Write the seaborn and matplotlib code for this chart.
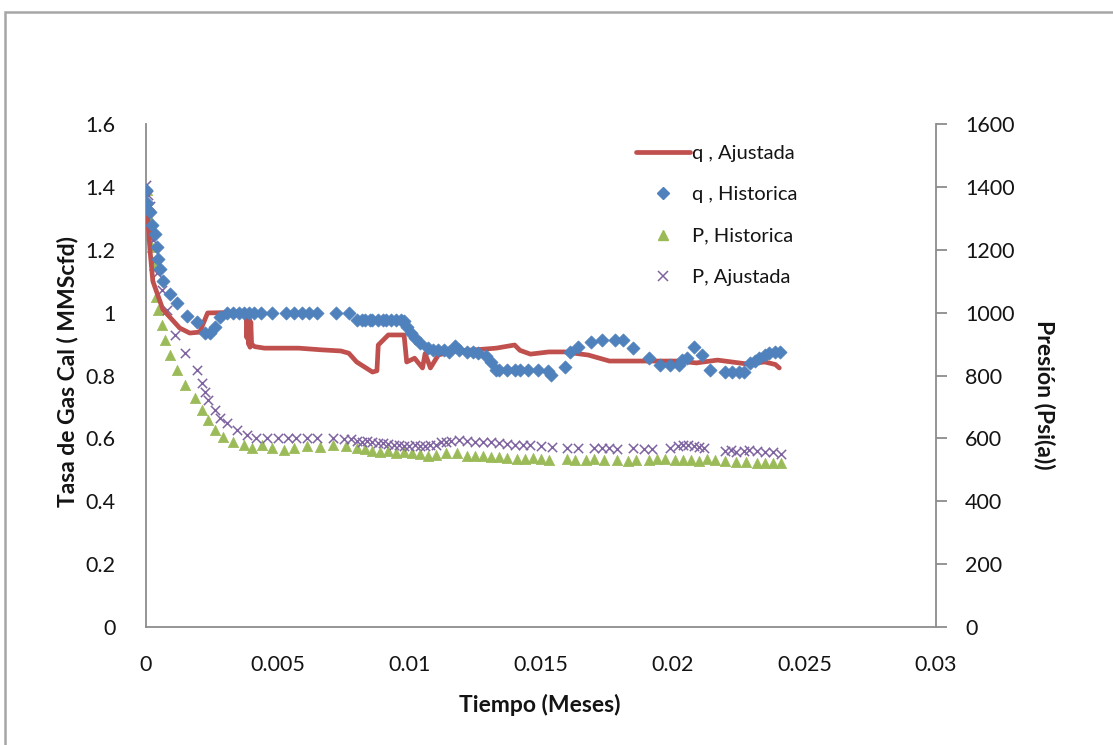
import numpy as np
import pandas as pd
import seaborn as sns
import matplotlib
matplotlib.use("Agg")
import matplotlib.pyplot as plt
from matplotlib.lines import Line2D
from matplotlib.patches import Rectangle

# ---- data -------------------------------------------------------------
# q , Ajustada (MMScfd) - fitted gas rate
q_fit_t = [0.0, 0.00004, 0.00015, 0.00026, 0.00064, 0.00128, 0.00166, 0.00204,
           0.00234, 0.00300, 0.00380, 0.00383, 0.00386, 0.00389, 0.00392, 0.00395,
           0.00398, 0.00401, 0.00412, 0.00450, 0.00580, 0.00660, 0.00740, 0.00770,
           0.00800, 0.00830, 0.00860, 0.00877, 0.00882, 0.00920, 0.00980, 0.00990,
           0.01020, 0.01050, 0.01060, 0.01080, 0.01110, 0.01160, 0.01240, 0.01330,
           0.01400, 0.01420, 0.01460, 0.01530, 0.01590, 0.01680, 0.01760, 0.01970,
           0.02020, 0.02090, 0.02170, 0.02280, 0.02350, 0.02390, 0.02405]
q_fit = [1.35, 1.33, 1.20, 1.10, 1.01, 0.951, 0.935, 0.938,
         0.999, 1.0, 1.0, 0.92, 0.99, 0.90, 0.98, 0.89,
         0.97, 0.90, 0.892, 0.887, 0.887, 0.882, 0.878, 0.871,
         0.843, 0.827, 0.811, 0.815, 0.897, 0.929, 0.929, 0.843,
         0.855, 0.824, 0.870, 0.824, 0.865, 0.877, 0.881, 0.887,
         0.897, 0.880, 0.868, 0.875, 0.875, 0.865, 0.846, 0.846,
         0.846, 0.840, 0.849, 0.837, 0.843, 0.835, 0.824]

# q , Historica (MMScfd) - measured gas rate
q_hist_t = [0.0, 0.00004, 0.00015, 0.00023, 0.00034, 0.00042, 0.00045, 0.00053,
            0.00064, 0.00091, 0.00117, 0.00155, 0.00193, 0.00223, 0.00242, 0.00261,
            0.00280, 0.00306, 0.00329, 0.00355, 0.00374, 0.00393, 0.00412, 0.00438,
            0.00480, 0.00533, 0.00563, 0.00593, 0.00620, 0.00650, 0.00722, 0.00771,
            0.00800, 0.00820, 0.00830, 0.00850, 0.00860, 0.00880, 0.00900, 0.00910,
            0.00930, 0.00950, 0.00970, 0.00980, 0.00990, 0.01005, 0.01020, 0.01040,
            0.01070, 0.01090, 0.01110, 0.01130, 0.01150, 0.01175, 0.01190, 0.01220,
            0.01240, 0.01260, 0.01290, 0.01310, 0.01330, 0.01340, 0.01370, 0.01400,
            0.01420, 0.01450, 0.01490, 0.01526, 0.01538, 0.01590, 0.01610, 0.01640,
            0.01690, 0.01730, 0.01780, 0.01810, 0.01850, 0.01910, 0.01950, 0.01990,
            0.02025, 0.02036, 0.02055, 0.02082, 0.02112, 0.02142, 0.02199, 0.02225,
            0.02252, 0.02271, 0.02293, 0.02312, 0.02327, 0.02350, 0.02365, 0.02388,
            0.02407]
q_hist = [1.39, 1.35, 1.32, 1.28, 1.25, 1.21, 1.17, 1.14,
          1.10, 1.06, 1.03, 0.99, 0.97, 0.935, 0.935, 0.955,
          0.985, 1.0, 1.0, 1.0, 1.0, 1.0, 1.0, 1.0,
          1.0, 1.0, 1.0, 1.0, 1.0, 1.0, 0.999, 0.999,
          0.978, 0.976, 0.976, 0.976, 0.976, 0.976, 0.976, 0.976,
          0.976, 0.976, 0.976, 0.972, 0.955, 0.935, 0.920, 0.903,
          0.887, 0.881, 0.880, 0.880, 0.875, 0.893, 0.880, 0.875,
          0.875, 0.872, 0.862, 0.843, 0.817, 0.817, 0.817, 0.817,
          0.817, 0.817, 0.817, 0.815, 0.801, 0.827, 0.875, 0.891,
          0.907, 0.913, 0.913, 0.913, 0.887, 0.856, 0.833, 0.833,
          0.833, 0.849, 0.855, 0.891, 0.865, 0.817, 0.811, 0.811,
          0.811, 0.811, 0.840, 0.845, 0.856, 0.865, 0.871, 0.875,
          0.875]

# P, Historica (psi(a)) - measured pressure
p_hist_t = [0.00004, 0.00008, 0.00015, 0.00023, 0.00030, 0.00038, 0.00045, 0.00060,
            0.00072, 0.00091, 0.00117, 0.00147, 0.00185, 0.00212, 0.00234, 0.00261,
            0.00291, 0.00329, 0.00374, 0.00404, 0.00442, 0.00480, 0.00525, 0.00563,
            0.00610, 0.00660, 0.00710, 0.00760, 0.00800, 0.00830, 0.00860, 0.00890,
            0.00920, 0.00950, 0.00980, 0.01010, 0.01040, 0.01070, 0.01100, 0.01140,
            0.01180, 0.01220, 0.01250, 0.01280, 0.01310, 0.01340, 0.01370, 0.01410,
            0.01440, 0.01470, 0.01500, 0.01530, 0.01600, 0.01630, 0.01670, 0.01700,
            0.01740, 0.01790, 0.01830, 0.01860, 0.01910, 0.01940, 0.01970, 0.02010,
            0.02040, 0.02070, 0.02100, 0.02130, 0.02160, 0.02200, 0.02240, 0.02280,
            0.02320, 0.02350, 0.02380, 0.02410]
p_hist = [1390, 1310, 1247, 1209, 1150, 1050, 1008, 961,
          913, 865, 817, 770, 728, 690, 658, 627,
          604, 589, 579, 569, 579, 570, 563, 570,
          575, 572, 580, 575, 570, 565, 560, 558,
          560, 555, 556, 553, 550, 545, 548, 555,
          552, 545, 545, 543, 540, 542, 538, 535,
          535, 538, 533, 532, 535, 530, 530, 533,
          530, 532, 528, 532, 530, 533, 535, 530,
          532, 530, 528, 535, 530, 527, 525, 524,
          523, 522, 522, 521]

# P, Ajustada (psi(a)) - fitted pressure
p_fit_t = [0.0, 0.00008, 0.00015, 0.00023, 0.00026, 0.00034, 0.00042, 0.00060,
           0.00079, 0.00110, 0.00147, 0.00193, 0.00212, 0.00223, 0.00234, 0.00261,
           0.00280, 0.00306, 0.00344, 0.00382, 0.00419, 0.00460, 0.00500, 0.00540,
           0.00570, 0.00610, 0.00650, 0.00710, 0.00750, 0.00780, 0.00800, 0.00820,
           0.00840, 0.00860, 0.00880, 0.00900, 0.00920, 0.00940, 0.00960, 0.00980,
           0.01000, 0.01020, 0.01040, 0.01060, 0.01080, 0.01100, 0.01120, 0.01140,
           0.01160, 0.01190, 0.01220, 0.01250, 0.01280, 0.01310, 0.01340, 0.01370,
           0.01400, 0.01430, 0.01460, 0.01500, 0.01540, 0.01600, 0.01640, 0.01700,
           0.01730, 0.01760, 0.01790, 0.01850, 0.01890, 0.01920, 0.01990, 0.02020,
           0.02040, 0.02060, 0.02080, 0.02100, 0.02120, 0.02200, 0.02220, 0.02240,
           0.02270, 0.02290, 0.02320, 0.02350, 0.02380, 0.02410]
p_fit = [1405, 1374, 1340, 1263, 1231, 1167, 1126, 1072,
         1008, 929, 871, 817, 776, 748, 722, 690,
         665, 649, 627, 611, 601, 600, 600, 600,
         600, 600, 602, 600, 598, 598, 592, 590,
         592, 588, 585, 585, 582, 580, 578, 575,
         575, 578, 575, 575, 578, 580, 588, 590,
         592, 595, 592, 590, 588, 588, 585, 582,
         580, 578, 580, 575, 572, 568, 570, 568,
         570, 568, 566, 568, 565, 565, 570, 575,
         578, 580, 575, 572, 570, 560, 562, 558,
         560, 562, 560, 558, 556, 550]

x_ticks = [0, 0.005, 0.01, 0.015, 0.02, 0.025, 0.03]
x_tick_labels = ["0", "0.005", "0.01", "0.015", "0.02", "0.025", "0.03"]
q_ticks = [0, 0.2, 0.4, 0.6, 0.8, 1.0, 1.2, 1.4, 1.6]
q_tick_labels = ["0", "0.2", "0.4", "0.6", "0.8", "1", "1.2", "1.4", "1.6"]
p_ticks = [0, 200, 400, 600, 800, 1000, 1200, 1400, 1600]
p_tick_labels = ["0", "200", "400", "600", "800", "1000", "1200", "1400", "1600"]

# ---- style ------------------------------------------------------------
sns.set_theme(style="white")
plt.rcParams["font.family"] = ["Lato", "DejaVu Sans"]

RED = "#C0504D"
BLUE = "#4F81BD"
GREEN = "#9BBB59"
PURPLE = "#8064A2"
GREY = "#8C8C8C"
TXT = "#141414"

fig = plt.figure(figsize=(11.13, 7.45), dpi=100)
fig.patch.set_facecolor("white")
# chart-area frame (only its top and left edges fall inside the canvas)
fig.patches.append(Rectangle((5 / 1113, -0.2), 1.2, 1.2 - 12 / 745,
                             transform=fig.transFigure, fill=False,
                             edgecolor="#A6A6A6", linewidth=1.8, zorder=0))

ax = fig.add_axes([146 / 1113, 1 - 627 / 745, (936 - 146) / 1113, (627 - 124) / 745])
ax2 = ax.twinx()

df_qf = pd.DataFrame({"t": q_fit_t, "q": q_fit})
df_qh = pd.DataFrame({"t": q_hist_t, "q": q_hist})
df_ph = pd.DataFrame({"t": p_hist_t, "p": p_hist})
df_pf = pd.DataFrame({"t": p_fit_t, "p": p_fit})

# pressure series on the secondary axis (drawn underneath)
sns.scatterplot(data=df_ph, x="t", y="p", ax=ax2, marker="^", s=55,
                color=GREEN, edgecolor=GREEN, linewidth=0.5, zorder=2)
sns.scatterplot(data=df_pf, x="t", y="p", ax=ax2, marker="x", s=45,
                color=PURPLE, linewidth=1.1, zorder=3)
# rate series on the primary axis
sns.lineplot(data=df_qf, x="t", y="q", ax=ax, color=RED, linewidth=3.4,
             estimator=None, sort=False, zorder=4)
sns.scatterplot(data=df_qh, x="t", y="q", ax=ax, marker="D", s=45,
                color=BLUE, edgecolor=BLUE, linewidth=0.5, zorder=5)

# primary axis (rate) above the secondary one
ax.set_zorder(ax2.get_zorder() + 1)
ax.patch.set_visible(False)

ax.set_xlim(0, 0.03)
ax.set_ylim(0, 1.6)
ax2.set_ylim(0, 1600)

ax.set_xticks(x_ticks, x_tick_labels)
ax.set_yticks(q_ticks, q_tick_labels)
ax2.set_yticks(p_ticks, p_tick_labels)

for s in ["top", "right"]:
    ax.spines[s].set_visible(False)
for s in ["top", "left", "bottom"]:
    ax2.spines[s].set_visible(False)
for s in ["left", "bottom"]:
    ax.spines[s].set_color(GREY)
    ax.spines[s].set_linewidth(1.3)
ax2.spines["right"].set_color(GREY)
ax2.spines["right"].set_linewidth(1.3)

TICK_FS = 15.5
ax.tick_params(axis="x", length=0, pad=20, labelsize=TICK_FS, labelcolor=TXT)
ax.tick_params(axis="y", length=0, pad=22, labelsize=TICK_FS, labelcolor=TXT)
ax2.tick_params(axis="y", direction="out", length=8, width=1.3, color=GREY,
                pad=13, labelsize=TICK_FS, labelcolor=TXT)

LAB_FS = 16.5
ax.set_xlabel("Tiempo (Meses)", fontsize=LAB_FS, fontweight="bold", color=TXT)
ax.xaxis.set_label_coords(0.499, -0.133)
ax.set_ylabel("Tasa de Gas Cal ( MMScfd)", fontsize=LAB_FS, fontweight="bold", color=TXT)
ax.yaxis.set_label_coords(-0.086, 0.507)
ax2.set_ylabel("Presión (Psi(a))", fontsize=LAB_FS, fontweight="bold", color=TXT,
               rotation=270, va="bottom")
ax2.yaxis.set_label_coords(1.123, 0.461)

handles = [
    Line2D([], [], color=RED, linewidth=3.4, label="q , Ajustada"),
    Line2D([], [], color=BLUE, marker="D", linestyle="none", markersize=6.5, label="q , Historica"),
    Line2D([], [], color=GREEN, marker="^", linestyle="none", markersize=7.5, label="P, Historica"),
    Line2D([], [], color=PURPLE, marker="x", linestyle="none", markersize=7.5,
           markeredgewidth=1.1, label="P, Ajustada"),
]
leg = ax.legend(handles=handles, loc="upper left",
                bbox_to_anchor=((628 - 146) / 790, (627 - 137) / 503),
                frameon=False, fontsize=14.5, handlelength=2.7, handletextpad=0.08,
                labelspacing=1.2, borderaxespad=0)
for t in leg.get_texts():
    t.set_color(TXT)

fig.savefig("out.png", dpi=100, facecolor="white")
